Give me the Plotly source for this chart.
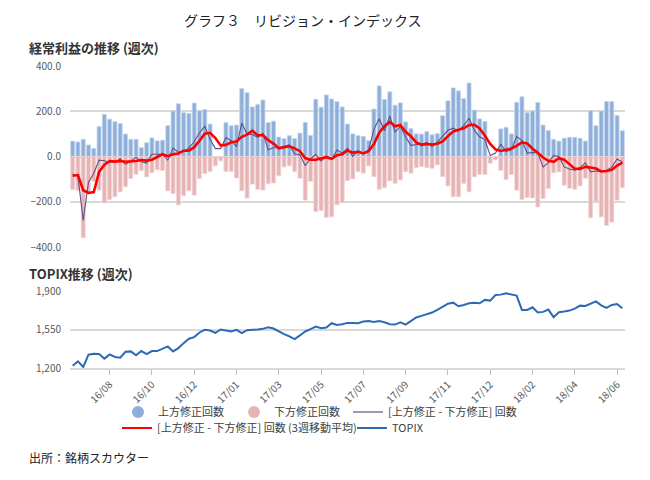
import pandas as pd
import plotly.graph_objects as go

# ---- data (weekly) ----
weeks = pd.date_range("2016-06-24", periods=105, freq="7D")

up_counts = [68, 64, 76, 51, 36, 132, 186, 165, 154, 146, 99, 76, 76, 39, 61, 82, 69, 72, 136, 201,
             233, 194, 190, 236, 202, 208, 143, 0, 0, 150, 136, 139, 300, 282, 219, 230, 250, 150, 156, 86,
             79, 92, 79, 103, 151, 93, 253, 218, 272, 254, 242, 219, 143, 100, 92, 89, 70, 210, 312, 252,
             286, 227, 237, 153, 123, 100, 99, 110, 96, 101, 180, 246, 303, 290, 256, 325, 205, 166, 155, 0,
             0, 122, 129, 100, 239, 264, 194, 201, 239, 139, 115, 76, 68, 81, 85, 85, 81, 68, 203, 136,
             201, 243, 243, 182, 114]

down_counts = [-146, -151, -359, -165, -110, -148, -205, -190, -178, -156, -134, -97, -79, -62, -90, -72, -59, -62, -152, -164,
               -214, -173, -152, -171, -97, -75, -67, -41, -19, -66, -66, -95, -152, -184, -122, -145, -148, -120, -117, -85,
               -46, -41, -67, -96, -193, -110, -244, -238, -270, -267, -213, -204, -107, -99, -67, -74, -41, -89, -145, -138,
               -108, -119, -104, -67, -74, -49, -44, -49, -52, -37, -89, -130, -178, -178, -119, -156, -90, -79, -80, -30,
               -15, -62, -102, -79, -149, -190, -181, -183, -223, -186, -142, -72, -68, -127, -140, -145, -130, -96, -271, -200,
               -267, -305, -290, -193, -138]

net_counts = [-78, -87, -283, -114, -74, -16, -19, -25, -24, -10, -35, -21, -3, -23, -29, 10, 10, 10, -16, 37,
              19, 21, 38, 65, 105, 133, 76, 35, 35, 84, 70, 44, 148, 98, 97, 85, 102, 30, 39, 40,
              45, 51, 12, 7, -40, -10, 9, -20, 2, -13, 29, 15, 36, 1, 25, 15, 29, 121, 167, 114,
              178, 108, 133, 86, 49, 51, 55, 61, 44, 64, 91, 116, 125, 112, 137, 169, 115, 87, 75, 4,
              15, 54, 22, 30, 88, 70, 15, 18, 16, -47, -27, 4, 0, -46, -55, -60, -49, -28, -68, -64,
              -66, -62, -47, -11, -24]

net_ma3 = [-85, -82, -149.3, -161.3, -157, -68, -36.3, -20, -22.7, -19.7, -23, -22, -19.7, -15.7, -18.3, -14, -3, 10, 1.3, 10.3,
           13.3, 25.7, 26, 41.3, 69.3, 101, 104.7, 81.3, 48.7, 51.3, 63, 66, 87.3, 96.7, 114.3, 93.3, 94.7, 72.3, 57, 36.3,
           41.3, 45.3, 36, 23.3, -7, -14.3, -13.7, -7, -3, -10.3, 6, 10.3, 26.7, 17.3, 20.7, 13.7, 23, 55, 105.7, 134,
           153, 133.3, 139.7, 109, 89.3, 62, 51.7, 55.7, 53.3, 56.3, 66.3, 90.3, 110.7, 117.7, 124.7, 139.3, 140.3, 123.7, 92.3, 55.3,
           31.3, 24.3, 30.3, 35.3, 46.7, 62.7, 57.7, 34.3, 16.3, -4.3, -19.3, -23.3, -7.7, -14, -33.7, -53.7, -54.7, -45.7, -48.3, -53.3,
           -66, -64, -58.3, -40, -27.3]

topix = [1221, 1260, 1209, 1321, 1330, 1327, 1285, 1324, 1300, 1294, 1348, 1351, 1315, 1354, 1327, 1354, 1354, 1372, 1396, 1351,
         1381, 1426, 1466, 1481, 1523, 1547, 1541, 1520, 1550, 1541, 1532, 1547, 1517, 1544, 1544, 1550, 1556, 1571, 1559, 1532,
         1508, 1487, 1463, 1496, 1532, 1553, 1577, 1562, 1568, 1607, 1592, 1598, 1610, 1610, 1607, 1622, 1628, 1619, 1628, 1616,
         1598, 1595, 1616, 1595, 1631, 1659, 1674, 1686, 1704, 1728, 1758, 1785, 1794, 1761, 1773, 1788, 1794, 1788, 1819, 1813,
         1864, 1867, 1879, 1870, 1858, 1728, 1728, 1752, 1704, 1710, 1731, 1662, 1707, 1713, 1722, 1740, 1767, 1764, 1785, 1806,
         1770, 1746, 1773, 1782, 1743]

tick_dates = ["2016-08-12", "2016-10-07", "2016-12-02", "2017-01-27", "2017-03-24", "2017-05-19", "2017-07-14",
              "2017-09-08", "2017-11-03", "2017-12-29", "2018-02-23", "2018-04-20", "2018-06-15"]
tick_labels = ["16/08", "16/10", "16/12", "17/01", "17/03", "17/05", "17/07",
               "17/09", "17/11", "17/12", "18/02", "18/04", "18/06"]

names = ["上方修正回数", "下方修正回数", "[上方修正 - 下方修正] 回数",
         "[上方修正 - 下方修正] 回数 (3週移動平均)", "TOPIX"]

# ---- styling ----
FONT = "Noto Sans CJK JP"
C_UP = "#8DAFDA"
C_DOWN = "#E6B4B5"
C_NET = "#5F5088"
C_MA = "#FF0000"
C_TOPIX = "#2E6AB3"
GRID = "#D9D9D9"

W, H = 650, 480
L, R = 70, 25


def py(p):
    return 1 - p / H


def px(p):
    return (p - L) / (W - L - R)


fig = go.Figure()

fig.add_trace(go.Bar(x=weeks, y=up_counts, marker=dict(color=C_UP, line=dict(color="#C3D4EC", width=0.8)),
                     showlegend=False, xaxis="x", yaxis="y", name=names[0]))
fig.add_trace(go.Bar(x=weeks, y=down_counts, marker=dict(color=C_DOWN, line=dict(color="#F3D6D7", width=0.8)),
                     showlegend=False, xaxis="x", yaxis="y", name=names[1]))
fig.add_trace(go.Scatter(x=weeks, y=net_counts, mode="lines", line=dict(color=C_NET, width=1.1),
                         showlegend=False, xaxis="x", yaxis="y", name=names[2]))
fig.add_trace(go.Scatter(x=weeks, y=net_ma3, mode="lines", line=dict(color=C_MA, width=2.6),
                         showlegend=False, xaxis="x", yaxis="y", name=names[3]))
fig.add_trace(go.Scatter(x=weeks, y=topix, mode="lines", line=dict(color=C_TOPIX, width=2),
                         showlegend=False, xaxis="x2", yaxis="y2", name=names[4]))

# legend entries (circle markers for bar series, as in the reference)
legend_specs = [
    ("legend", dict(mode="markers", marker=dict(symbol="circle", size=12, color=C_UP))),
    ("legend2", dict(mode="markers", marker=dict(symbol="circle", size=12, color=C_DOWN))),
    ("legend3", dict(mode="lines", line=dict(color="#A093BF", width=2))),
    ("legend4", dict(mode="lines", line=dict(color=C_MA, width=2))),
    ("legend5", dict(mode="lines", line=dict(color=C_TOPIX, width=2))),
]
for nm, (lg, spec) in zip(names, legend_specs):
    fig.add_trace(go.Scatter(x=[None], y=[None], name=nm, legend=lg, showlegend=True, **spec))

xr = ["2016-06-20 12:00", "2018-06-25 12:00"]
tickfont = dict(family=FONT, size=10, color="#595959")
legfont = dict(family=FONT, size=11, color="#404040")


def leg(text_x, row_y):
    return dict(orientation="h", x=px(text_x - 40), y=py(row_y), xanchor="left", yanchor="middle",
                itemwidth=30, font=legfont, bgcolor="rgba(0,0,0,0)", borderwidth=0)


fig.update_layout(
    width=W, height=H,
    margin=dict(l=L, r=R, t=0, b=0, autoexpand=False),
    paper_bgcolor="white", plot_bgcolor="white",
    barmode="relative", bargap=0.25,
    font=dict(family=FONT, color="#333333"),
    xaxis=dict(domain=[0, 1], range=xr, type="date", anchor="y", showticklabels=False,
               showgrid=False, zeroline=False, showline=False, ticks=""),
    yaxis=dict(domain=[py(247), py(66)], range=[-400, 400], tickvals=[-400, -200, 0, 200, 400],
               tickformat=".1f", tickfont=tickfont, gridcolor=GRID, gridwidth=1.5, ticklabelstandoff=8,
               zeroline=True, zerolinecolor=GRID, zerolinewidth=1.5, showline=False, ticks=""),
    xaxis2=dict(domain=[0, 1], range=xr, type="date", anchor="y2", tickvals=tick_dates, ticktext=tick_labels,
                tickangle=-45, tickfont=tickfont, ticks="outside", ticklen=5, tickcolor="#BFBFBF",
                showgrid=False, zeroline=False, showline=True, linecolor=GRID, linewidth=1.5),
    yaxis2=dict(domain=[py(368), py(291)], range=[1200, 1900], tickvals=[1200, 1550, 1900],
                tickformat=",", tickfont=tickfont, gridcolor=GRID, gridwidth=1.5, ticklabelstandoff=8,
                zeroline=False, showline=False, ticks=""),
    legend=leg(158, 412),
    legend2=leg(274, 412),
    legend3=leg(388, 412),
    legend4=leg(157, 428),
    legend5=leg(392, 428),
    annotations=[
        dict(text="グラフ３　リビジョン・インデックス", xref="paper", yref="paper", x=px(303), y=py(20),
             xanchor="center", yanchor="middle", showarrow=False,
             font=dict(family=FONT, size=14, color="#222222")),
        dict(text="<b>経常利益の推移 (週次)</b>", xref="paper", yref="paper", x=px(27), y=py(48),
             xanchor="left", yanchor="middle", showarrow=False,
             font=dict(family=FONT, size=13, color="#333333")),
        dict(text="<b>TOPIX推移 (週次)</b>", xref="paper", yref="paper", x=px(27), y=py(273),
             xanchor="left", yanchor="middle", showarrow=False,
             font=dict(family=FONT, size=13, color="#333333")),
        dict(text="出所：銘柄スカウター", xref="paper", yref="paper", x=px(27), y=py(457),
             xanchor="left", yanchor="middle", showarrow=False,
             font=dict(family=FONT, size=12, color="#222222")),
    ],
)

fig.write_html("out.html", config={"displayModeBar": False},
               post_script="document.body.style.margin='0px';")
